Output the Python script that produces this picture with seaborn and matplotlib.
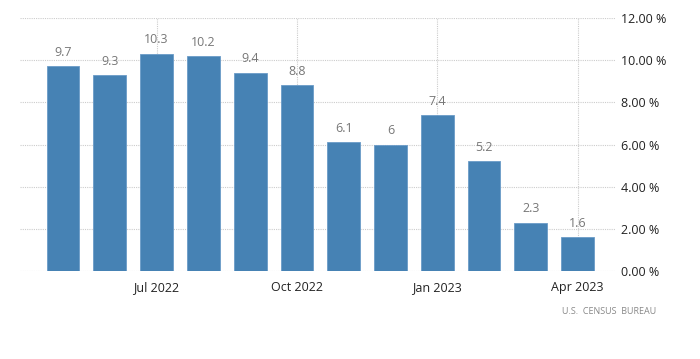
import matplotlib.pyplot as plt
import seaborn as sns
import pandas as pd

months = ["May 2022", "Jun 2022", "Jul 2022", "Aug 2022", "Sep 2022", "Oct 2022",
          "Nov 2022", "Dec 2022", "Jan 2023", "Feb 2023", "Mar 2023", "Apr 2023"]
values = [9.7, 9.3, 10.3, 10.2, 9.4, 8.8, 6.1, 6, 7.4, 5.2, 2.3, 1.6]
tick_labels = ["Jul 2022", "Oct 2022", "Jan 2023", "Apr 2023"]
y_ticks = [0, 2, 4, 6, 8, 10, 12]

df = pd.DataFrame({"month": months, "value": values})

sns.set_theme(style="white")
plt.rcParams["font.family"] = ["Open Sans", "DejaVu Sans"]

fig = plt.figure(figsize=(7, 3.59), dpi=100)
ax = fig.add_axes([20 / 700, 1 - 271 / 359, 595 / 700, 253 / 359])

sns.barplot(data=df, x="month", y="value", order=months, color="#4682b4",
            saturation=1, width=0.7, edgecolor="#6a9bc8", linewidth=0.6, ax=ax)

for i, v in enumerate(values):
    ax.text(i, v + 0.35, f"{v:g}", ha="center", va="bottom",
            fontsize=9, color="#777777")

ax.set_xlim(-0.92, 11.8)
ax.set_ylim(0, 12)

# major ticks only on quarter months
major_pos = [months.index(m.replace(" ", " ")) for m in
             ["Jul 2022", "Oct 2022", "Jan 2023", "Apr 2023"]]
ax.set_xticks(major_pos)
ax.set_xticklabels(tick_labels)
ax.set_xticks(range(len(months)), minor=True)

ax.yaxis.tick_right()
ax.set_yticks(y_ticks)
ax.set_yticklabels([f"{t:.2f} %" for t in y_ticks])

ax.grid(True, which="major", color="#cccccc", linestyle=(0, (1, 1)), linewidth=0.8)
ax.set_axisbelow(True)

for s in ax.spines.values():
    s.set_visible(False)

ax.tick_params(axis="x", which="major", length=4, color="#cccccc",
               labelsize=9, labelcolor="#222222", pad=3)
ax.tick_params(axis="x", which="minor", length=3, color="#e0e0e0")
ax.tick_params(axis="y", length=0, labelsize=9, labelcolor="#222222", pad=4)

ax.set_xlabel("")
ax.set_ylabel("")

fig.text(656 / 700, 1 - 312 / 359, "U.S.  CENSUS  BUREAU", ha="right", va="center",
         fontsize=6.5, color="#888888")

plt.savefig("out.png", dpi=100)
plt.close()
